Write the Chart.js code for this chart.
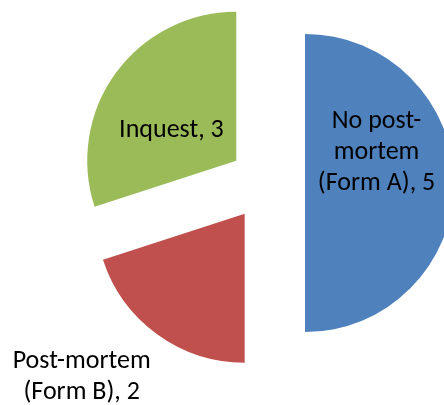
<!DOCTYPE html>
<html>
<head>
<meta charset="utf-8">
<script src="https://cdn.jsdelivr.net/npm/chart.js@4"></script>
<style>
  html, body { margin: 0; padding: 0; background: #ffffff; overflow: hidden; }
  #wrap { width: 444px; height: 405px; position: relative; }
</style>
</head>
<body>
<div id="wrap"><canvas id="c" width="444" height="405"></canvas></div>
<script>
// ---- data ----
const categoryLines = [["No post-", "mortem", "(Form A)"], ["Post-mortem", "(Form B)"], ["Inquest"]];
const categories = categoryLines.map(l => l.join(" ").replace("- ", "-"));
const values = [5, 2, 3];
const colors = ["#4F81BD", "#C0504D", "#9BBB59"];

// ---- style / layout ----
const EXPLODE = 38;
const RADIUS = 149;
const FONT = "26px Carlito, Lato, 'Liberation Sans', sans-serif";
const LINE_H = 31;
// label placement: radial factor along mid-angle, plus nudge
const labelPlace = [
  { r: 0.48, dx: 0, dy: -31 },
  { r: 1.53, dx: -29, dy: -21 },
  { r: 0.48, dx: -7, dy: 12 }
];

const explodePlugin = {
  id: 'explode',
  afterDatasetsUpdate(chart) {
    const meta = chart.getDatasetMeta(0);
    meta.data.forEach(arc => {
      const mid = (arc.startAngle + arc.endAngle) / 2;
      arc.x += Math.cos(mid) * EXPLODE;
      arc.y += Math.sin(mid) * EXPLODE;
    });
  }
};

const labelPlugin = {
  id: 'sliceLabels',
  afterDatasetsDraw(chart) {
    const ctx = chart.ctx;
    const meta = chart.getDatasetMeta(0);
    ctx.save();
    ctx.font = FONT;
    ctx.fillStyle = "#000000";
    ctx.textAlign = "center";
    ctx.textBaseline = "middle";
    meta.data.forEach((arc, i) => {
      const mid = (arc.startAngle + arc.endAngle) / 2;
      const p = labelPlace[i];
      const cx = arc.x + Math.cos(mid) * p.r * arc.outerRadius + p.dx;
      const cy = arc.y + Math.sin(mid) * p.r * arc.outerRadius + p.dy;
      const lines = categoryLines[i].slice();
      lines[lines.length - 1] = lines[lines.length - 1] + ", " + values[i];
      const top = cy - (lines.length - 1) * LINE_H / 2;
      lines.forEach((ln, k) => ctx.fillText(ln, cx, top + k * LINE_H));
    });
    ctx.restore();
  }
};

new Chart(document.getElementById('c'), {
  type: 'pie',
  data: {
    labels: categories,
    datasets: [{
      data: values,
      backgroundColor: colors,
      borderWidth: 0,
      clip: false
    }]
  },
  options: {
    responsive: false,
    animation: false,
    events: [],
    radius: RADIUS,
    layout: { padding: { left: 90, right: 0, top: 0, bottom: 39 } },
    plugins: {
      legend: { display: false },
      tooltip: { enabled: false },
      title: { display: false }
    }
  },
  plugins: [explodePlugin, labelPlugin]
});
</script>
</body>
</html>
